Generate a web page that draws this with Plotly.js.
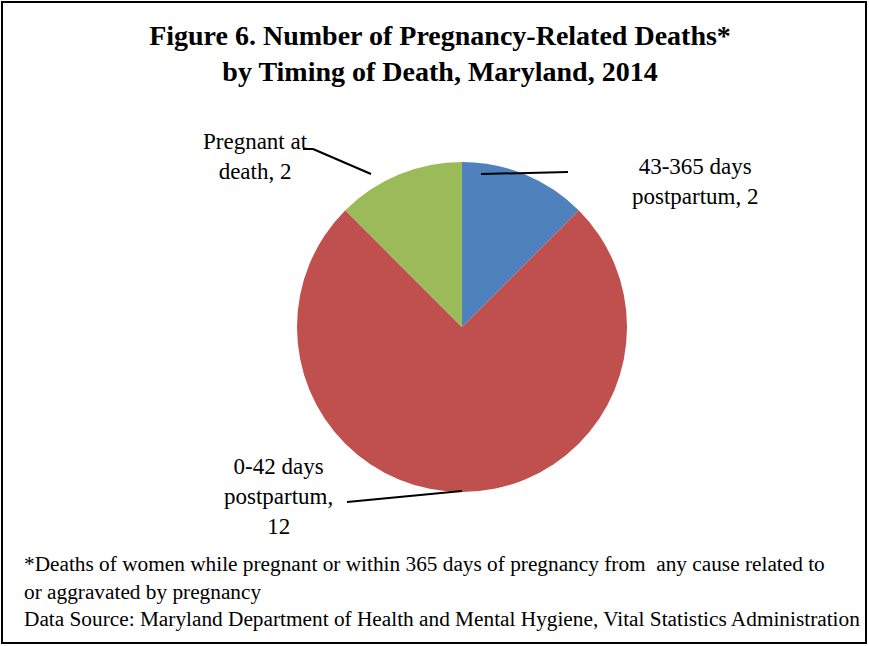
<!DOCTYPE html>
<html>
<head>
<meta charset="utf-8">
<script src="https://cdn.plot.ly/plotly-3.0.1.min.js"></script>
<style>
html,body{margin:0;padding:0;background:#fff;}
#chart{width:869px;height:646px;}
</style>
</head>
<body>
<div id="chart"></div>
<script>
const categories = ["43-365 days postpartum", "0-42 days postpartum", "Pregnant at death"];
const values = [2, 12, 2];
const colors = ["#4F81BD", "#C0504D", "#9BBB59"];
const labelTexts = ["43-365 days<br>postpartum, " + values[0], "0-42 days<br>postpartum,<br>" + values[1], "Pregnant at<br>death, " + values[2]];
const titleText = "<b>Figure 6. Number of Pregnancy-Related Deaths*<br>by Timing of Death, Maryland, 2014</b>";
const footText = "*Deaths of women while pregnant or within 365 days of pregnancy from  any cause related to<br>or aggravated by pregnancy<br>Data Source: Maryland Department of Health and Mental Hygiene, Vital Statistics Administration";

const W = 869, H = 646;
const px = x => x / W;
const py = y => 1 - y / H;
const serif = "Liberation Serif";

const trace = {
  type: "pie",
  labels: categories,
  values: values,
  marker: {colors: colors, line: {width: 0}},
  sort: false,
  direction: "clockwise",
  rotation: 0,
  textinfo: "none",
  hoverinfo: "label+value",
  showlegend: false,
  domain: {x: [px(297), px(627)], y: [py(492), py(162)]}
};

const labelPos = [[695, 181], [278, 496], [255, 156]];
const annotations = labelTexts.map((t, i) => ({
  text: t, xref: "paper", yref: "paper",
  x: px(labelPos[i][0]), y: py(labelPos[i][1]),
  xanchor: "center", yanchor: "middle", showarrow: false, align: "center",
  font: {family: serif, size: 23, color: "#000"}
}));
annotations.push({
  text: footText, xref: "paper", yref: "paper",
  x: px(22), y: py(591), xanchor: "left", yanchor: "middle", showarrow: false, align: "left",
  font: {family: serif, size: 21.3, color: "#000"}
});

const lineStyle = {color: "#000", width: 2};
const shapes = [
  {type: "rect", xref: "paper", yref: "paper", x0: px(2), x1: px(866), y0: py(643), y1: py(2), line: {color: "#000", width: 2}},
  {type: "line", xref: "paper", yref: "paper", x0: px(481), y0: py(174), x1: px(568), y1: py(172), line: lineStyle},
  {type: "line", xref: "paper", yref: "paper", x0: px(303), y0: py(149), x1: px(313), y1: py(149), line: lineStyle},
  {type: "line", xref: "paper", yref: "paper", x0: px(313), y0: py(149), x1: px(371), y1: py(174), line: lineStyle},
  {type: "line", xref: "paper", yref: "paper", x0: px(347), y0: py(502), x1: px(462), y1: py(491), line: lineStyle}
];

const layout = {
  width: W, height: H,
  margin: {l: 0, r: 0, t: 0, b: 0},
  paper_bgcolor: "#fff",
  title: {text: titleText, x: px(440), y: py(45), xanchor: "center", yanchor: "middle",
          font: {family: serif, size: 28, color: "#000"}},
  annotations: annotations,
  shapes: shapes
};

Plotly.newPlot("chart", [trace], layout, {displayModeBar: false});
</script>
</body>
</html>
